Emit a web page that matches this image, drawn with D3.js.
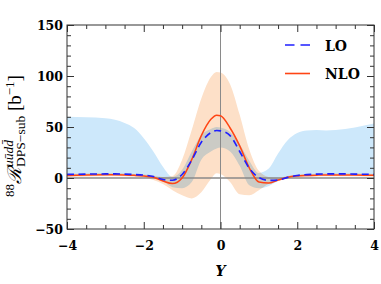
<!DOCTYPE html>
<html>
<head>
<meta charset="utf-8">
<script src="https://cdn.jsdelivr.net/npm/d3@7"></script>
<style>
	body { margin: 0; background: #fff; }
</style>
</head>
<body>
<div id="chart"></div>
<script>
// Rapidity grid and curves.
var rapidity    = [ -4, -3.5, -3, -2.75, -2.5, -2.25, -2, -1.75, -1.5, -1.25, -1, -0.75, -0.5, -0.25, -0.1, 0, 0.25, 0.5, 0.75, 1, 1.25, 1.5, 1.75, 2, 2.25, 2.5, 2.75, 3, 3.25, 3.5, 3.75, 4 ];
var loValues    = [ 3.5, 3.8, 4, 4, 3.8, 3.4, 2.8, 1.5, -1.5, -2.2, 3.5, 17.5, 35, 44.5, 46.5, 46.2, 41.5, 26, 9.5, 0.5, -2.3, -2, 0.6, 2.5, 3.3, 3.8, 4, 4, 4, 3.8, 3.7, 3.5 ];
var nloValues   = [ 2.5, 3, 3.2, 3.2, 3, 2.6, 2, 0.8, -3, -5.5, 0, 18, 41.5, 57.5, 61.5, 61, 49, 31.5, 10, -4, -5, -2, 0.8, 2, 2.5, 2.8, 3, 3, 3, 2.9, 2.8, 2.7 ];
var loBandLow   = [ 3, 3.3, 3.5, 3.5, 3.2, 2.8, 2, 0.5, -3, -9, -10, -4, 18, 26, 29, 30, 26, 12, -7, -10, -8, -3, 0, 2, 2.8, 3.3, 3.5, 3.5, 3.5, 3.3, 3.2, 3 ];
var loBandHigh  = [ 60, 59.5, 58.5, 57, 54, 49, 39, 26, 11, 1, 8, 26, 42, 48, 50, 49.5, 45, 33, 17, 5, 9, 24, 37, 44, 46.5, 47, 46.5, 47, 48, 49.5, 51.5, 53.5 ];
var nloBandLow  = [ 1, 1.5, 1.8, 1.8, 1.6, 1.2, 0.5, -2, -6, -12, -17, -20, -14, -1, 4.6, 4, -4, -16, -17, -12, -6, -3, -0.5, 0.8, 1.3, 1.5, 1.7, 1.7, 1.7, 1.6, 1.5, 1.4 ];
var nloBandHigh = [ 4, 4.5, 4.7, 4.7, 4.5, 4, 3.5, 2.5, 1, 2, 18, 47, 78, 99, 104, 103.5, 92, 62, 28, 7, 1, 0, 2, 3.2, 3.8, 4.2, 4.4, 4.4, 4.4, 4.3, 4.1, 4 ];

var xTicks = [ -4, -2, 0, 2, 4 ];
var yTicks = [ -50, 0, 50, 100, 150 ];
var seriesNames = [ 'LO', 'NLO' ];

( function () {
	var COLORS = {
		lo:      '#1f1fff',
		nlo:     '#ff4514',
		loBand:  '#cde8fb',
		nloBand: '#fde0c8',
		zero:    '#8a8a8a',
		frame:   '#333'
	};

	var width  = 381;
	var height = 284;
	var margin = { top: 25, right: 7, bottom: 55, left: 67 };
	var iw     = width - margin.left - margin.right;
	var ih     = height - margin.top - margin.bottom;

	var svg = d3.select( '#chart' ).append( 'svg' )
		.attr( 'width', width )
		.attr( 'height', height );

	svg.append( 'defs' ).append( 'clipPath' ).attr( 'id', 'plot-clip' )
		.append( 'rect' ).attr( 'width', iw ).attr( 'height', ih );

	var g = svg.append( 'g' )
		.attr( 'transform', 'translate(' + margin.left + ',' + margin.top + ')' );

	var x = d3.scaleLinear().domain( [ -4, 4 ] ).range( [ 0, iw ] );
	var y = d3.scaleLinear().domain( [ -50, 150 ] ).range( [ ih, 0 ] );

	var rows = rapidity.map( function ( r, i ) {
		return {
			r: r, lo: loValues[ i ], nlo: nloValues[ i ],
			loL: loBandLow[ i ], loH: loBandHigh[ i ],
			nloL: nloBandLow[ i ], nloH: nloBandHigh[ i ]
		};
	} );

	var plot = g.append( 'g' ).attr( 'clip-path', 'url(#plot-clip)' );

	function band( lowKey, highKey ) {
		return d3.area()
			.x( function ( d ) { return x( d.r ); } )
			.y0( function ( d ) { return y( d[ lowKey ] ); } )
			.y1( function ( d ) { return y( d[ highKey ] ); } )
			.curve( d3.curveMonotoneX );
	}

	plot.append( 'path' ).datum( rows )
		.attr( 'fill', COLORS.loBand )
		.attr( 'd', band( 'loL', 'loH' ) );

	plot.append( 'path' ).datum( rows )
		.attr( 'fill', COLORS.nloBand )
		.style( 'mix-blend-mode', 'multiply' )
		.attr( 'd', band( 'nloL', 'nloH' ) );

	// Zero lines.
	plot.append( 'line' )
		.attr( 'x1', 0 ).attr( 'x2', iw )
		.attr( 'y1', y( 0 ) ).attr( 'y2', y( 0 ) )
		.attr( 'stroke', COLORS.zero ).attr( 'stroke-width', 1.3 );
	plot.append( 'line' )
		.attr( 'x1', x( 0 ) ).attr( 'x2', x( 0 ) )
		.attr( 'y1', 0 ).attr( 'y2', ih )
		.attr( 'stroke', COLORS.zero ).attr( 'stroke-width', 1 );

	function curve( key ) {
		return d3.line()
			.x( function ( d ) { return x( d.r ); } )
			.y( function ( d ) { return y( d[ key ] ); } )
			.curve( d3.curveMonotoneX );
	}

	plot.append( 'path' ).datum( rows )
		.attr( 'fill', 'none' )
		.attr( 'stroke', COLORS.nlo )
		.attr( 'stroke-width', 1.5 )
		.attr( 'd', curve( 'nlo' ) );

	plot.append( 'path' ).datum( rows )
		.attr( 'fill', 'none' )
		.attr( 'stroke', COLORS.lo )
		.attr( 'stroke-width', 1.6 )
		.attr( 'stroke-dasharray', '7,4.5' )
		.attr( 'd', curve( 'lo' ) );

	// ─── Axes (ticks pointing inward on all four sides) ───
	var tickFont = 'DejaVu Serif, serif';
	var minorX = d3.range( -4, 4.01, 0.5 ).filter( function ( v ) { return xTicks.indexOf( v ) < 0; } );
	var minorY = d3.range( -50, 150.1, 10 ).filter( function ( v ) { return yTicks.indexOf( v ) < 0; } );

	function styleAxis( s ) {
		s.select( '.domain' ).remove();
		s.selectAll( 'line' ).attr( 'stroke', COLORS.frame );
		s.selectAll( 'text' )
			.attr( 'fill', '#000' )
			.style( 'font-family', tickFont )
			.style( 'font-weight', 'bold' )
			.style( 'font-size', '12.5px' );
	}

	g.append( 'g' ).attr( 'transform', 'translate(0,' + ih + ')' )
		.call( d3.axisBottom( x ).tickValues( xTicks ).tickSize( -7 ).tickSizeOuter( 0 ).tickPadding( 12 )
			.tickFormat( function ( v ) { return v < 0 ? '\u2212' + Math.abs( v ) : v; } ) )
		.call( styleAxis );
	g.append( 'g' ).attr( 'transform', 'translate(0,' + ih + ')' )
		.call( d3.axisBottom( x ).tickValues( minorX ).tickSize( -4 ).tickSizeOuter( 0 ).tickFormat( '' ) )
		.call( styleAxis );
	g.append( 'g' )
		.call( d3.axisTop( x ).tickValues( xTicks ).tickSize( -7 ).tickSizeOuter( 0 ).tickFormat( '' ) )
		.call( styleAxis );
	g.append( 'g' )
		.call( d3.axisTop( x ).tickValues( minorX ).tickSize( -4 ).tickSizeOuter( 0 ).tickFormat( '' ) )
		.call( styleAxis );

	g.append( 'g' )
		.call( d3.axisLeft( y ).tickValues( yTicks ).tickSize( -7 ).tickSizeOuter( 0 ).tickPadding( 4 )
			.tickFormat( function ( v ) { return v < 0 ? '\u2212' + Math.abs( v ) : v; } ) )
		.call( styleAxis );
	g.append( 'g' )
		.call( d3.axisLeft( y ).tickValues( minorY ).tickSize( -4 ).tickSizeOuter( 0 ).tickFormat( '' ) )
		.call( styleAxis );
	g.append( 'g' ).attr( 'transform', 'translate(' + iw + ',0)' )
		.call( d3.axisRight( y ).tickValues( yTicks ).tickSize( -7 ).tickSizeOuter( 0 ).tickFormat( '' ) )
		.call( styleAxis );
	g.append( 'g' ).attr( 'transform', 'translate(' + iw + ',0)' )
		.call( d3.axisRight( y ).tickValues( minorY ).tickSize( -4 ).tickSizeOuter( 0 ).tickFormat( '' ) )
		.call( styleAxis );

	g.append( 'rect' )
		.attr( 'width', iw ).attr( 'height', ih )
		.attr( 'fill', 'none' )
		.attr( 'stroke', COLORS.frame )
		.attr( 'stroke-width', 1 );

	// X label.
	svg.append( 'text' )
		.attr( 'x', margin.left + x( 0 ) )
		.attr( 'y', 276 )
		.attr( 'text-anchor', 'middle' )
		.style( 'font-family', tickFont )
		.style( 'font-weight', 'bold' )
		.style( 'font-style', 'italic' )
		.style( 'font-size', '14px' )
		.text( 'Y' );

	// Y label (rotated, with super/subscripts).
	var yl = svg.append( 'g' ).attr( 'transform', 'translate(21,136) rotate(-90)' );
	var t = yl.append( 'text' )
		.style( 'font-family', 'Liberation Serif, DejaVu Serif, serif' )
		.style( 'font-size', '19px' );
	t.append( 'tspan' ).style( 'font-size', '13px' ).attr( 'dy', -7 ).text( '88' );
	t.append( 'tspan' ).attr( 'dy', 7 ).style( 'font-style', 'italic' ).text( '\u211B' );
	var sup = t.append( 'tspan' ).style( 'font-size', '13.5px' ).style( 'font-style', 'italic' ).attr( 'dy', -8 ).text( 'u\u016Bd' + 'd\u0304' );
	var sub = t.append( 'tspan' ).style( 'font-size', '13.5px' ).attr( 'dy', 12 ).text( 'DPS\u2212sub' );
	t.append( 'tspan' ).attr( 'dy', -4 ).text( '\u00A0[b' );
	t.append( 'tspan' ).style( 'font-size', '13px' ).attr( 'dy', -7 ).text( '\u22121' );
	t.append( 'tspan' ).attr( 'dy', 7 ).text( ']' );
	sub.attr( 'dx', -sup.node().getComputedTextLength() );
	var bb = t.node().getBBox();
	t.attr( 'x', -bb.x - bb.width / 2 );

	// Legend.
	var legend = svg.append( 'g' );
	var items = [
		{ label: seriesNames[ 0 ], color: COLORS.lo,  dash: '9.5,6', y: 45 },
		{ label: seriesNames[ 1 ], color: COLORS.nlo, dash: null,    y: 73.5 }
	];
	var lg = legend.selectAll( 'g' ).data( items ).join( 'g' )
		.attr( 'transform', function ( d ) { return 'translate(285,' + d.y + ')'; } );
	lg.append( 'line' )
		.attr( 'x1', 0 ).attr( 'x2', 25 )
		.attr( 'stroke', function ( d ) { return d.color; } )
		.attr( 'stroke-width', 1.6 )
		.attr( 'stroke-dasharray', function ( d ) { return d.dash; } );
	lg.append( 'text' )
		.attr( 'x', 40 )
		.attr( 'y', 5.5 )
		.style( 'font-family', tickFont )
		.style( 'font-weight', 'bold' )
		.style( 'font-size', '14px' )
		.text( function ( d ) { return d.label; } );
} )();
</script>
</body>
</html>
